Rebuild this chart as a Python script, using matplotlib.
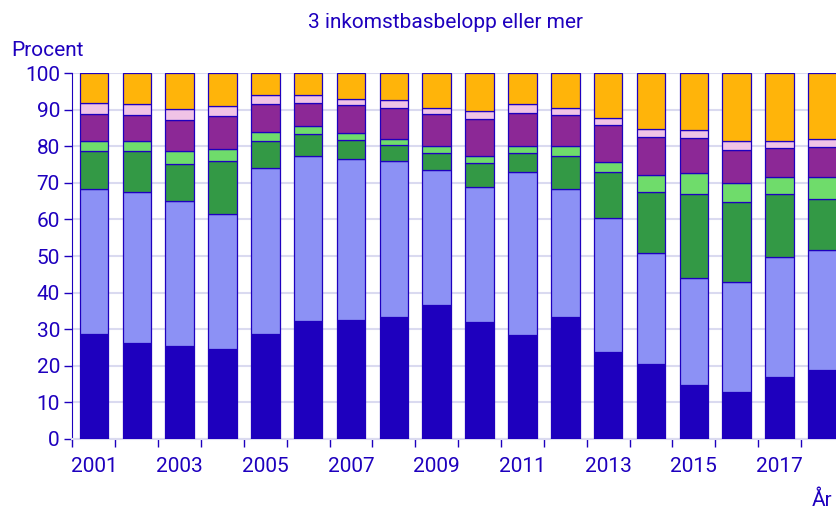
import numpy as np
import matplotlib
matplotlib.use("Agg")
from matplotlib import pyplot as plt

plt.rcParams['font.family'] = ['Roboto', 'DejaVu Sans']

years = list(range(2001, 2019))

# segment shares in percent, bottom to top
seg1 = [28.6, 26.3, 25.3, 24.5, 28.6, 32.2, 32.6, 33.2, 36.5, 31.9, 28.4, 33.2, 23.7, 20.4, 14.8, 12.8, 16.9, 18.9]
seg2 = [39.7, 41.3, 39.7, 37.1, 45.5, 45.1, 43.9, 42.7, 37.0, 37.0, 44.6, 35.0, 36.6, 30.4, 29.2, 30.1, 32.7, 32.7]
seg3 = [10.4, 11.1, 10.1, 14.4, 7.4, 6.1, 5.2, 4.4, 4.7, 6.6, 5.1, 9.1, 12.7, 16.8, 22.9, 21.8, 17.3, 14.0]
seg4 = [2.8, 2.6, 3.7, 3.2, 2.5, 2.0, 2.0, 1.8, 1.9, 1.8, 2.0, 2.8, 2.7, 4.5, 5.9, 5.3, 4.8, 6.1]
seg5 = [7.3, 7.3, 8.3, 9.1, 7.4, 6.5, 7.5, 8.3, 8.7, 10.1, 8.9, 8.5, 10.1, 10.5, 9.4, 9.0, 7.8, 8.0]
seg6 = [3.0, 3.0, 3.2, 2.7, 2.6, 2.2, 1.8, 2.1, 1.7, 2.1, 2.5, 1.9, 1.8, 2.1, 2.1, 2.4, 2.0, 2.2]
seg7 = [8.2, 8.4, 9.7, 9.0, 6.0, 5.9, 7.0, 7.5, 9.5, 10.5, 8.5, 9.5, 12.4, 15.3, 15.7, 18.6, 18.5, 18.1]

segments = [seg1, seg2, seg3, seg4, seg5, seg6, seg7]
colors = ['#1E00BE', '#8C91F5', '#339945', '#6FDC6B', '#8C2896', '#F0C3E6', '#FFB40A']

blue = '#1E00BE'
fs = 15

fig = plt.figure(figsize=(8.37, 5.12), dpi=100)
ax = fig.add_axes([0.0866, 0.1426, 0.9134, 0.7148])

x = np.array(years)
bottom = np.zeros(len(years))
for vals, c in zip(segments, colors):
    vals = np.array(vals)
    ax.bar(x, vals, width=0.665, bottom=bottom, color=c, edgecolor=blue,
           linewidth=0.9, zorder=3)
    bottom += vals

ax.set_xlim(2000.5, 2018.34)
ax.set_ylim(0, 100)
ax.set_yticks(np.arange(0, 101, 10))
ax.yaxis.grid(True, color='#DADAF0', linewidth=1.5, zorder=0)

ax.set_xticks(years[::2])
ax.set_xticks(np.arange(2000.5, 2018.5, 1), minor=True)
ax.tick_params(axis='x', which='major', length=0, pad=13, labelcolor=blue, labelsize=fs)
ax.tick_params(axis='x', which='minor', length=6, color=blue, width=1)
ax.tick_params(axis='y', length=6, color=blue, width=1, pad=3, labelcolor=blue, labelsize=fs)

for s in ['top', 'right']:
    ax.spines[s].set_visible(False)
ax.spines['left'].set_color(blue)
ax.spines['bottom'].set_color('#DADAF0')
ax.spines['bottom'].set_linewidth(1.5)

fig.text(0.532, 0.957, '3 inkomstbasbelopp eller mer', ha='center', va='center',
         color=blue, fontsize=fs)
fig.text(0.013, 0.902, 'Procent', ha='left', va='center', color=blue, fontsize=fs)
fig.text(0.982, 0.022, 'År', ha='center', va='center', color=blue, fontsize=fs)

fig.savefig('out.png', dpi=100)
